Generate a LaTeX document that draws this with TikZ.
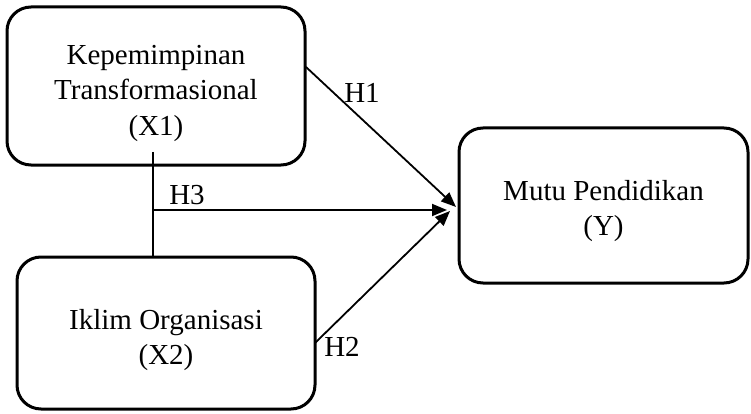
\documentclass[tikz,border=0pt]{standalone}
\usepackage{fontspec}
\setmainfont{Liberation Serif}
\usetikzlibrary{arrows.meta}
\begin{document}
\begin{tikzpicture}[x=1pt,y=-1pt,
  varbox/.style={draw, line width=3pt, rounded corners=24pt, inner sep=0pt},
  vartext/.style={align=center, font=\fontsize{29}{35.5}\selectfont, inner sep=0pt},
  link/.style={line width=1.8pt, -{Triangle[length=15pt,width=12pt]}},
  lbl/.style={font=\fontsize{29}{30}\selectfont, inner sep=0pt}]
\useasboundingbox (0,0) rectangle (751,414);
\node[varbox, minimum width=298pt, minimum height=158pt] (X1) at (156,86) {};
\node[varbox, minimum width=298pt, minimum height=152pt] (X2) at (166,333) {};
\node[varbox, minimum width=289pt, minimum height=155pt] (Y) at (603.5,205.5) {};
\node[vartext] (X1t) at (156,93) {Kepemimpinan\\Transformasional\\(X1)};
\node[vartext] (X2t) at (166,340) {Iklim Organisasi\\(X2)};
\node[vartext] (Yt) at (603.5,211) {Mutu Pendidikan\\(Y)};
\coordinate (v1) at (153,152);
\coordinate (h3s) at (153,210);
\coordinate (t3) at (447,210);
\coordinate (s1) at (306,67);
\coordinate (t1) at (456,207);
\coordinate (s2) at (315,343);
\coordinate (t2) at (450,211);
\draw[line width=1.4pt] (v1) -- (v1 |- X2.north);
\draw[link] (h3s) -- (t3);
\draw[link] (s1) -- (t1);
\draw[link] (s2) -- (t2);
\node[lbl] (H1) at (362,93) {H1};
\node[lbl] (H3) at (187,195) {H3};
\node[lbl] (H2) at (342,347) {H2};
\end{tikzpicture}
\end{document}
